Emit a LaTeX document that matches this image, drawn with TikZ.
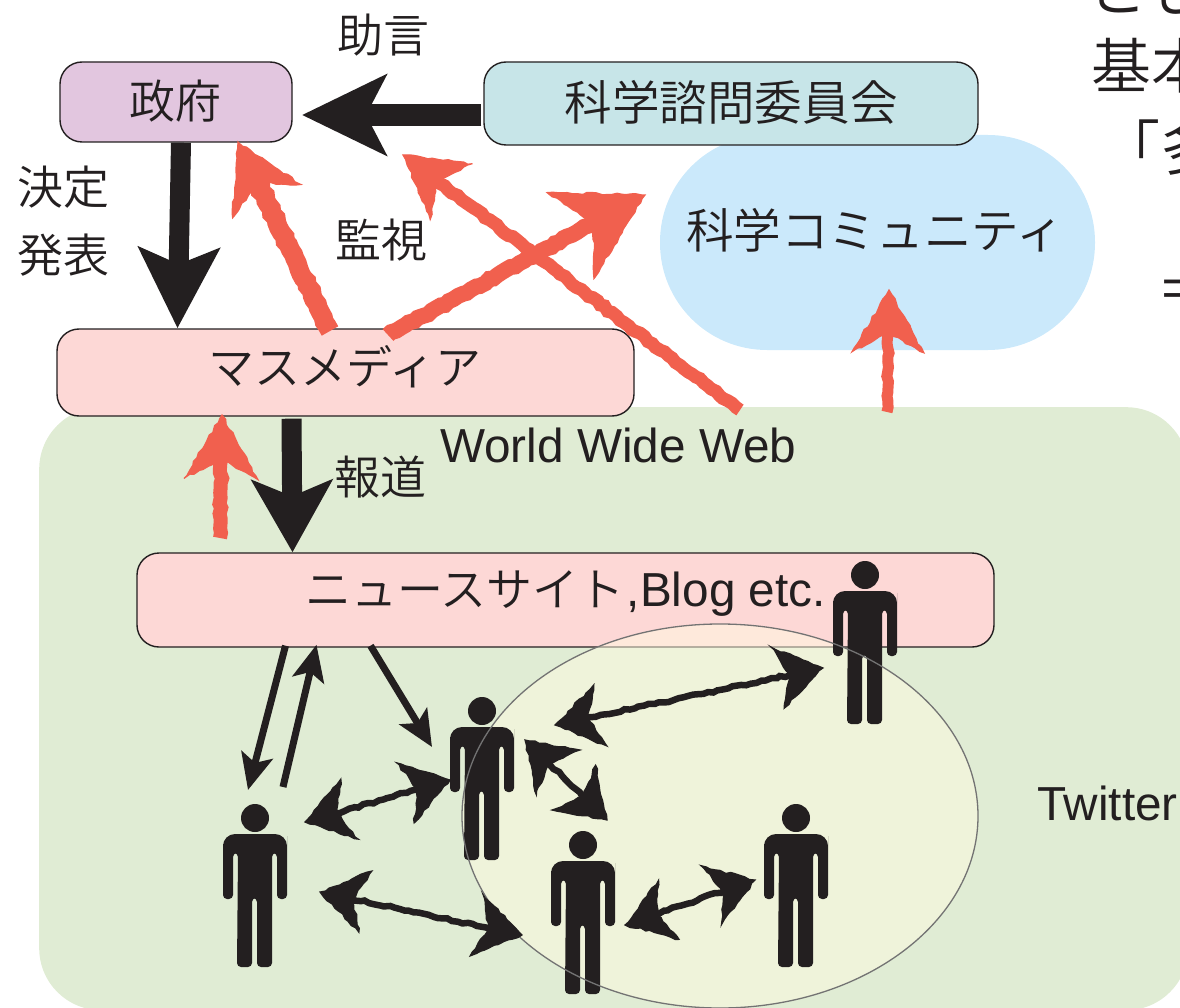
\documentclass[tikz,border=0pt]{standalone}
\usepackage{fontspec}
\setmainfont{Liberation Sans}
\newfontfamily\cjk{Noto Sans CJK JP DemiLight}
\usetikzlibrary{calc,arrows.meta,decorations.pathmorphing,shapes.geometric}
\definecolor{ink}{HTML}{231F20}
\definecolor{govc}{HTML}{E2C6DF}
\definecolor{sciC}{HTML}{C7E5E8}
\definecolor{pinkc}{HTML}{FDD8D6}
\definecolor{commc}{HTML}{CBE9FB}
\definecolor{greenc}{HTML}{E0ECD4}
\definecolor{ellc}{HTML}{FFFBE1}
\definecolor{redc}{HTML}{F1604E}
\newcommand\jpfont{\cjk\fontsize{46}{50}\selectfont}
\newcommand\jpwide{\cjk\fontsize{47.6}{50}\selectfont}
\newcommand\lafont{\fontsize{47.7}{50}\selectfont}
\newcommand\bigfont{\cjk\fontsize{60}{66}\selectfont}
\newcommand\skhead[5]{%
  \fill[#3,draw=#3,line width=1.2pt,rough]
    (#1) -- ($(#1)!#4!#5:(#2)$) -- ($(#1)!0.6*#4!0:(#2)$) -- ($(#1)!#4!-#5:(#2)$) -- cycle;}
\newcommand\skarrow[6]{% from, to, colour, shaft width, barb length, half-angle
  \draw[#3,line width=#4,rough] (#1) -- ($(#2)!0.6*#5!0:(#1)$);
  \skhead{#2}{#1}{#3}{#5}{#6}}
\newcommand\skdouble[2]{%
  \draw[ink,line width=6.5pt,rough] ($(#1)!26pt!0:(#2)$) -- ($(#2)!26pt!0:(#1)$);
  \skhead{#1}{#2}{ink}{56pt}{34}\skhead{#2}{#1}{ink}{56pt}{34}}
\tikzset{
  x=1pt,y=-1pt,
  rough/.style={decorate,decoration={random steps,segment length=5pt,amplitude=1.2pt}},
  boxed/.style={draw=ink,line width=1.4pt,rounded corners=22pt,inner sep=0pt,text=ink},
  jp/.style={font=\jpfont,text=ink,inner sep=0pt},
  la/.style={font=\lafont,text=ink,inner sep=0pt},
  big/.style={font=\bigfont,text=ink,inner sep=0pt,anchor=west},
  fat/.style={ink,line width=20pt,-{Stealth[length=#1,width=80pt,inset=16pt]}},
  thin/.style={ink,line width=7pt,-{Stealth[length=36pt,width=32pt,inset=8pt]}},
  person/.pic={
    \fill[ink] (0,0) circle (14);
    \fill[ink,rounded corners=4pt]
      (-32,81) -- (-32,30) [rounded corners=12pt] -- (-32,16) -- (32,16) -- (32,30)
      [rounded corners=4pt] -- (32,81) -- (22,81) -- (22,35) -- (17,35) -- (17,149)
      -- (2,149) -- (2,80) -- (-3,80) -- (-3,149) -- (-18,149) -- (-17,35)
      -- (-22,35) -- (-22,81) -- cycle;
  }
}
\pgfmathsetseed{7}
\begin{document}
\begin{tikzpicture}
\useasboundingbox (0,0) rectangle (1180,1008);
\clip (0,0) rectangle (1180,1008);
% backgrounds
\node[fill=greenc,rounded corners=62pt,minimum width=1149pt,minimum height=603pt,inner sep=0pt,anchor=north west] (web) at (39,407) {};
\node[fill=commc,rounded corners=107pt,minimum width=435pt,minimum height=215pt,inner sep=0pt,jp] (comm) at (877.5,242.5) {};
\node[font=\jpwide,text=ink,inner sep=0pt] (commlabel) at (875,230) {科学コミュニティ};
% boxes
\node[boxed,fill=govc,minimum width=232pt,minimum height=80pt] (gov) at (176,102) {};
\node[jp] (govlabel) at (175,101) {政府};
\node[boxed,fill=sciC,minimum width=494pt,minimum height=83pt] (sci) at (731,103.5) {};
\node[font=\jpwide,text=ink,inner sep=0pt] (scilabel) at (731,102) {科学諮問委員会};
\node[boxed,fill=pinkc,minimum width=577pt,minimum height=87pt] (media) at (345.5,372.5) {};
\node[jp] (medialabel) at (345,367) {マスメディア};
\node[boxed,fill=pinkc,minimum width=857pt,minimum height=94pt] (news) at (565.5,600) {};
\node[inner sep=0pt,text=ink,anchor=west] (newslabel) at (305,594) {\jpfont ニュースサイト\lafont\rmfamily\kern2pt ,Blog etc.};
% Twitter ellipse fill
\fill[ellc,fill opacity=.5] (720,816) ellipse (258 and 192);
\coordinate (tw) at (720,816);
% people
\pic at (255,818) {person}; \coordinate (p1) at (255,818);
\pic at (482,711) {person}; \coordinate (p2) at (482,711);
\pic at (583,845) {person}; \coordinate (p3) at (583,845);
\pic at (796,818) {person}; \coordinate (p4) at (796,818);
\pic at (865,575) {person}; \coordinate (p5) at (865,575);
\draw[black!55,line width=1.3pt] (tw) ellipse (258 and 192);
% labels
\node[jp] (advice) at (383,35) {助言};
\node[jp] (d1) at (63,187) {決定};
\node[jp] (d2) at (63,255) {発表};
\node[jp] (watch) at (381,240) {監視};
\node[jp] (report) at (380,477) {報道};
\node[la,anchor=west] (www) at (440,445) {World Wide Web};
\node[la,anchor=west] (twlabel) at (1037,803) {Twitter};
\node[big] (t0) at (1087,-10) {とし};
\node[big] (t1) at (1091,66) {基本};
\node[big] (t2) at (1100,148) {「多};
\node[big] (t3) at (1156,296) {＝};
% thick black connectors
\coordinate (a1s) at ([xshift=-2pt]sci.west);
\coordinate (a1e) at (302,115);
\draw[ink,line width=22pt,-{Stealth[length=84pt,width=80pt,inset=20pt]}] (a1s|-a1e) -- (a1e);
\draw[fat=80pt] ([xshift=5pt]gov.south) -- ([xshift=-168pt]media.north);
\draw[fat=72pt] ([xshift=-54pt,yshift=-2pt]media.south) -- ([xshift=-273pt]news.north);
% thin black connectors
\draw[thin] ([xshift=-280pt,yshift=2pt]news.south) -- (248,790);
\draw[thin] (283,787) -- ([xshift=-249pt,yshift=3pt]news.south);
\draw[thin] ([xshift=-195pt,yshift=2pt]news.south) -- (432,747);
% red sketch connectors
\coordinate (r1s) at (330,331); \coordinate (r1e) at (238,142);
\coordinate (r2s) at (388,335); \coordinate (r2e) at (645,195);
\coordinate (r3s) at (740,410); \coordinate (r3e) at (403,155);
\coordinate (r4s) at (887,412); \coordinate (r4e) at (889,290);
\coordinate (r5s) at (220,538); \coordinate (r5e) at (222,415);
\skarrow{r3s}{r3e}{redc}{13pt}{70pt}{30}
\skarrow{r1s}{r1e}{redc}{19pt}{76pt}{30}
\skarrow{r2s}{r2e}{redc}{16pt}{98pt}{30}
\skarrow{r4s}{r4e}{redc}{11pt}{72pt}{30}
\skarrow{r5s}{r5e}{redc}{14pt}{74pt}{30}
% sketched black double connectors
\coordinate (b1a) at (305,822); \coordinate (b1b) at (450,780);
\coordinate (b2a) at (555,725); \coordinate (b2b) at (823,668);
\coordinate (b3a) at (525,740); \coordinate (b3b) at (607,820);
\coordinate (b4a) at (320,892); \coordinate (b4b) at (522,935);
\coordinate (b5a) at (625,925); \coordinate (b5b) at (755,880);
\skdouble{b1a}{b1b}
\skdouble{b2a}{b2b}
\skdouble{b3a}{b3b}
\skdouble{b4a}{b4b}
\skdouble{b5a}{b5b}
\end{tikzpicture}
\end{document}
